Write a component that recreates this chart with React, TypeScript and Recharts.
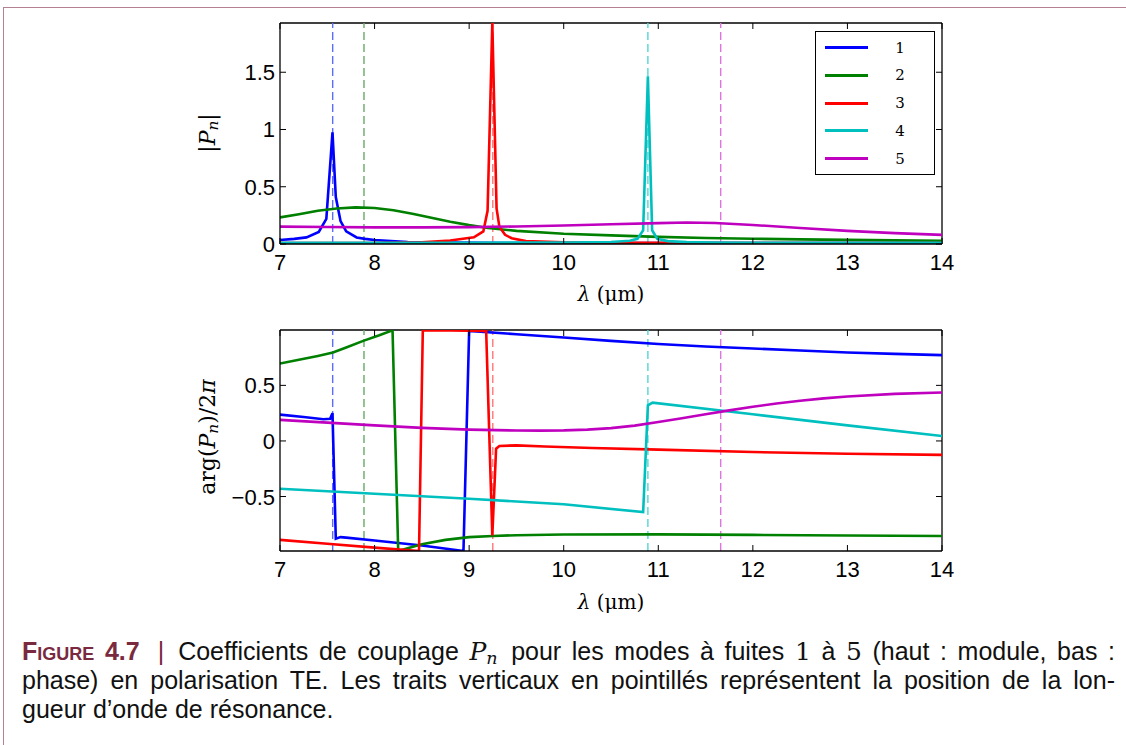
import React from "react";
import { LineChart, Line, XAxis, YAxis, ReferenceLine, Legend } from "recharts";

// modes 1..5
const modes = ["1", "2", "3", "4", "5"];
const colors = ["#0000ff", "#008000", "#ff0000", "#00bfbf", "#bf00bf"];
const dashColors = ["#5b6cff", "#66aa66", "#ff7777", "#55d5d5", "#dd77dd"];
const resonances = [7.557, 7.888, 9.25, 10.89, 11.66];
const xTicks = [7, 8, 9, 10, 11, 12, 13, 14];

// |P_n|
const mod1X = [7.0, 7.15, 7.28, 7.41, 7.49, 7.555, 7.59, 7.64, 7.7, 7.81, 7.9, 8.0, 8.35, 8.8, 9.5, 10.5, 12, 14];
const mod1Y = [0.035, 0.045, 0.058, 0.105, 0.22, 0.975, 0.41, 0.2, 0.11, 0.057, 0.045, 0.035, 0.018, 0.012, 0.009, 0.008, 0.008, 0.008];
const mod2X = [7.0, 7.2, 7.4, 7.6, 7.8, 8.0, 8.2, 8.4, 8.6, 8.8, 9.0, 9.2, 9.5, 10, 10.5, 11, 11.5, 12, 12.5, 13, 13.5, 14];
const mod2Y = [0.232, 0.26, 0.29, 0.31, 0.32, 0.315, 0.295, 0.265, 0.23, 0.195, 0.165, 0.14, 0.115, 0.09, 0.075, 0.062, 0.053, 0.046, 0.04, 0.036, 0.032, 0.029];
const mod3X = [7.0, 8.0, 8.5, 8.8, 9.05, 9.15, 9.195, 9.245, 9.29, 9.32, 9.38, 9.45, 9.6, 10, 10.5, 11, 12, 14];
const mod3Y = [0.008, 0.009, 0.014, 0.03, 0.058, 0.11, 0.29, 1.93, 0.31, 0.15, 0.08, 0.05, 0.025, 0.014, 0.011, 0.01, 0.009, 0.008];
const mod4X = [7, 9, 10, 10.5, 10.7, 10.78, 10.84, 10.89, 10.935, 10.99, 11.1, 11.3, 11.6, 12, 14];
const mod4Y = [0.01, 0.011, 0.013, 0.018, 0.028, 0.045, 0.12, 1.465, 0.12, 0.045, 0.025, 0.016, 0.012, 0.011, 0.01];
const mod5X = [7, 7.5, 8, 8.5, 9, 9.5, 10, 10.5, 11, 11.3, 11.6, 12, 12.5, 13, 13.5, 14];
const mod5Y = [0.152, 0.148, 0.145, 0.145, 0.147, 0.153, 0.162, 0.172, 0.182, 0.188, 0.183, 0.166, 0.14, 0.115, 0.095, 0.08];

// arg(P_n)/2pi
const arg1X = [7.0, 7.25, 7.46, 7.53, 7.555, 7.59, 7.64, 7.7, 8.0, 8.5, 8.94, 9.0, 9.5, 10, 10.5, 11, 11.5, 12, 12.5, 13, 13.5, 14];
const arg1Y = [0.237, 0.215, 0.195, 0.2, 0.25, -0.88, -0.865, -0.87, -0.895, -0.94, -0.99, 0.99, 0.96, 0.93, 0.9, 0.872, 0.85, 0.832, 0.813, 0.796, 0.783, 0.772];
const arg2X = [7.0, 7.2, 7.4, 7.56, 7.7, 7.88, 8.05, 8.19, 8.25, 8.35, 8.5, 8.75, 9.0, 9.25, 9.5, 10, 11, 12, 13, 14];
const arg2Y = [0.697, 0.73, 0.765, 0.796, 0.84, 0.9, 0.95, 0.995, -0.99, -0.965, -0.93, -0.89, -0.865, -0.855, -0.848, -0.842, -0.84, -0.845, -0.85, -0.855];
const arg3X = [7.0, 7.5, 8.0, 8.47, 8.51, 8.8, 9.18, 9.245, 9.285, 9.32, 9.5, 9.8, 10.3, 11, 12, 13, 14];
const arg3Y = [-0.89, -0.925, -0.96, -0.99, 0.995, 0.995, 0.99, -0.85, -0.07, -0.045, -0.04, -0.05, -0.063, -0.078, -0.1, -0.115, -0.125];
const arg4X = [7.0, 8, 9, 10, 10.84, 10.89, 10.94, 12, 13, 14];
const arg4Y = [-0.43, -0.475, -0.52, -0.57, -0.64, 0.32, 0.345, 0.24, 0.14, 0.045];
const arg5X = [7.0, 7.5, 8.0, 8.5, 9.0, 9.5, 9.75, 10.0, 10.25, 10.5, 10.75, 11.0, 11.25, 11.5, 11.75, 12.0, 12.25, 12.5, 12.75, 13.0, 13.5, 14.0];
const arg5Y = [0.19, 0.165, 0.14, 0.118, 0.102, 0.094, 0.093, 0.095, 0.102, 0.115, 0.138, 0.17, 0.204, 0.24, 0.275, 0.307, 0.337, 0.362, 0.383, 0.4, 0.423, 0.436];

const modTicks = [0, 0.5, 1, 1.5];
const argTicks = [-0.5, 0, 0.5];

type Pt = { x: number; y: number };
const pts = (xs: number[], ys: number[]): Pt[] => xs.map((x, i) => ({ x, y: ys[i] }));

const modSeries = [pts(mod1X, mod1Y), pts(mod2X, mod2Y), pts(mod3X, mod3Y), pts(mod4X, mod4Y), pts(mod5X, mod5Y)];
const argSeries = [pts(arg1X, arg1Y), pts(arg2X, arg2Y), pts(arg3X, arg3Y), pts(arg4X, arg4Y), pts(arg5X, arg5Y)];

const PLOT_W = 662;
const PLOT_H = 221;
const sans = "'Liberation Sans', Arial, sans-serif";
const serif = "'DejaVu Serif', 'Liberation Serif', serif";

const fmt = (v: number) => (v < 0 ? "\u2212" + Math.abs(v) : String(v));

// matlab style: inward ticks on both sides, labels outside
const XTick = (props: any) => {
  const { x, y, payload } = props;
  return (
    <g>
      <line x1={x} x2={x} y1={y} y2={y - 6} stroke="#000" />
      <line x1={x} x2={x} y1={y - PLOT_H} y2={y - PLOT_H + 6} stroke="#000" />
      <text x={x} y={y + 26} textAnchor="middle" fontFamily={sans} fontSize={22} fill="#000">
        {payload.value}
      </text>
    </g>
  );
};

const YTick = (props: any) => {
  const { x, y, payload } = props;
  return (
    <g>
      <line x1={x} x2={x + 6} y1={y} y2={y} stroke="#000" />
      <line x1={x + PLOT_W} x2={x + PLOT_W - 6} y1={y} y2={y} stroke="#000" />
      <text x={x - 5} y={y + 8} textAnchor="end" fontFamily={sans} fontSize={22} fill="#000">
        {fmt(payload.value)}
      </text>
    </g>
  );
};

const LegendBox = () => (
  <div
    style={{
      position: "relative",
      width: 118,
      height: 142,
      border: "1.3px solid #000",
      background: "#fff",
      fontFamily: serif,
      fontSize: 15,
    }}
  >
    {modes.map((m, i) => (
      <div key={m} style={{ position: "absolute", left: 0, top: 15.7 + i * 27.7 - 10, height: 20, width: 118 }}>
        <div style={{ position: "absolute", left: 9, top: 8.5, width: 43, height: 3, background: colors[i] }} />
        <div style={{ position: "absolute", left: 74, width: 20, top: 0, lineHeight: "20px", textAlign: "center" }}>{m}</div>
      </div>
    ))}
  </div>
);

interface PanelProps {
  series: Pt[][];
  yDomain: [number, number];
  yTicks: number[];
  height: number;
  margin: { top: number; right: number; bottom: number; left: number };
  legend?: boolean;
}

const Panel: React.FC<PanelProps> = ({ series, yDomain, yTicks, height, margin, legend }) => (
  <LineChart width={1126} height={height} margin={margin}>
    <XAxis
      type="number"
      dataKey="x"
      domain={[7, 14]}
      ticks={xTicks}
      interval={0}
      allowDataOverflow
      height={1}
      tickLine={false}
      tickSize={0}
      tickMargin={0}
      axisLine={{ stroke: "#000", strokeWidth: 1.3 }}
      tick={(p: any) => <XTick {...p} />}
    />
    <YAxis
      type="number"
      domain={yDomain}
      ticks={yTicks}
      interval={0}
      allowDataOverflow
      width={1}
      tickLine={false}
      tickSize={0}
      tickMargin={0}
      axisLine={{ stroke: "#000", strokeWidth: 1.3 }}
      tick={(p: any) => <YTick {...p} />}
    />
    <ReferenceLine y={yDomain[1]} stroke="#000" strokeWidth={1.3} />
    <ReferenceLine x={14} stroke="#000" strokeWidth={1.3} />
    {resonances.map((r, i) => (
      <ReferenceLine key={"r" + i} x={r} stroke={dashColors[i]} strokeWidth={1.4} strokeDasharray="8 4" />
    ))}
    {series.map((s, i) => (
      <Line
        key={modes[i]}
        name={modes[i]}
        data={s}
        dataKey="y"
        type="linear"
        stroke={colors[i]}
        strokeWidth={2.6}
        dot={false}
        activeDot={false}
        isAnimationActive={false}
      />
    ))}
    {legend && (
      <Legend
        layout="vertical"
        align="center"
        verticalAlign="middle"
        wrapperStyle={{ left: 815, top: 31, width: 120, height: 144 }}
        content={() => <LegendBox />}
      />
    )}
  </LineChart>
);

const lambdaLabel = (
  <span>
    <i>λ</i> (μm)
  </span>
);

// subscript that does not stretch the line box
const sub = (t: string) => (
  <span style={{ fontSize: "0.7em", position: "relative", top: "0.2em", fontStyle: "italic", lineHeight: 0 }}>{t}</span>
);

export default function App() {
  const frame = "#b5808f";
  const maroon = "#7a2a3e";
  return (
    <div style={{ position: "absolute", left: 0, top: 0, width: 1126, height: 745, background: "#fff", overflow: "hidden" }}>
      <div style={{ position: "absolute", left: 3, top: 7, right: 0, bottom: 0, borderTop: `1.5px solid ${frame}`, borderLeft: `1.5px solid ${frame}` }} />

      <div style={{ position: "absolute", left: 0, top: 0 }}>
        <Panel series={modSeries} yDomain={[0, 1.93]} yTicks={modTicks} height={320} margin={{ top: 23, right: 184, bottom: 75, left: 279 }} legend />
      </div>
      <div style={{ position: "absolute", left: 0, top: 300 }}>
        <Panel series={argSeries} yDomain={[-0.99, 0.998]} yTicks={argTicks} height={300} margin={{ top: 30, right: 184, bottom: 48, left: 279 }} />
      </div>

      {/* axis titles */}
      <div style={{ position: "absolute", left: 511, width: 200, top: 282, lineHeight: "24px", textAlign: "center", fontFamily: serif, fontSize: 20 }}>{lambdaLabel}</div>
      <div style={{ position: "absolute", left: 511, width: 200, top: 590, lineHeight: "24px", textAlign: "center", fontFamily: serif, fontSize: 20 }}>{lambdaLabel}</div>
      <div style={{ position: "absolute", left: 207, top: 133, transform: "translate(-50%, -50%) rotate(-90deg)", whiteSpace: "nowrap", fontFamily: serif, fontSize: 22 }}>
        |<i>P</i>{sub("n")}|
      </div>
      <div style={{ position: "absolute", left: 207, top: 437, transform: "translate(-50%, -50%) rotate(-90deg)", whiteSpace: "nowrap", fontFamily: serif, fontSize: 22 }}>
        arg(<i>P</i>{sub("n")})/2<i>π</i>
      </div>

      {/* caption */}
      <div style={{ position: "absolute", left: 22, top: 637, width: 1093, fontFamily: sans, fontSize: 25, lineHeight: "29px", color: "#111" }}>
        <div style={{ textAlign: "justify", textAlignLast: "justify", height: 29, whiteSpace: "nowrap" }}>
          <span style={{ color: maroon, fontWeight: "bold", fontVariant: "small-caps" }}>Figure 4.7</span>
          <span style={{ color: maroon, margin: "0 14px 0 18px" }}>|</span>
          Coefficients de couplage{" "}
          <span style={{ fontFamily: serif, fontStyle: "italic", marginRight: 3 }}>P{sub("n")}</span> pour les modes à fuites{" "}
          <span style={{ fontFamily: serif }}>1</span> à <span style={{ fontFamily: serif }}>5</span> (haut : module, bas :
        </div>
        <div style={{ textAlign: "justify", textAlignLast: "justify", height: 29 }}>
          phase) en polarisation TE. Les traits verticaux en pointillés représentent la position de la lon-
        </div>
        <div style={{ height: 29 }}>gueur d’onde de résonance.</div>
      </div>
    </div>
  );
}
